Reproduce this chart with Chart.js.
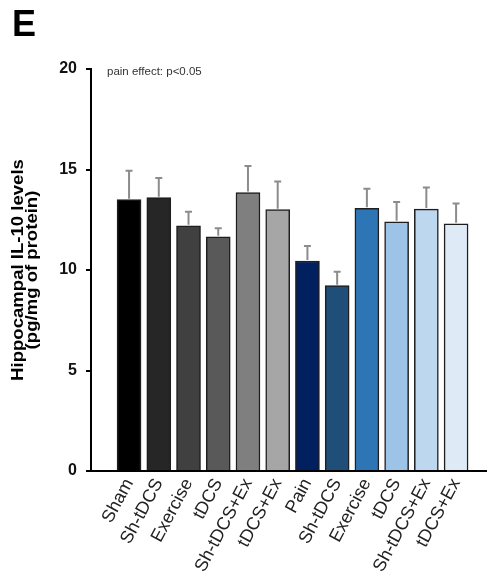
<!DOCTYPE html>
<html>
<head>
<meta charset="utf-8">
<script src="https://cdn.jsdelivr.net/npm/chart.js@4.4.1/dist/chart.umd.min.js"></script>
<style>
  html, body { margin: 0; padding: 0; background: #fff; }
  #wrap { width: 487px; height: 576px; position: relative; }
</style>
</head>
<body>
<div id="wrap"><canvas id="c" width="487" height="576"></canvas></div>
<script>
// Groups: control (grey) then pain (blue)
const categories = ['Sham', 'Sh-tDCS', 'Exercise', 'tDCS', 'Sh-tDCS+Ex', 'tDCS+Ex',
                    'Pain', 'Sh-tDCS', 'Exercise', 'tDCS', 'Sh-tDCS+Ex', 'tDCS+Ex'];
const meanIL10 = [13.5, 13.6, 12.2, 11.65, 13.85, 13.0, 10.45, 9.22, 13.07, 12.4, 13.03, 12.3];
const semIL10  = [1.44, 0.98, 0.7, 0.43, 1.32, 1.4, 0.75, 0.69, 0.97, 0.98, 1.08, 1.01];
const barColors = ['#000000', '#262626', '#404040', '#595959', '#7f7f7f', '#a6a6a6',
                   '#002060', '#1f4e79', '#2e75b6', '#9dc3e6', '#bdd7ee', '#deebf7'];
const yTicks = [0, 5, 10, 15, 20];

const FONT = "'Liberation Sans', Arial, Helvetica, sans-serif";

// Mean ± SEM whiskers above each bar
const errorBars = {
  id: 'errorBars',
  afterDatasetsDraw(chart) {
    const ctx = chart.ctx;
    const meta = chart.getDatasetMeta(0);
    const ys = chart.scales.y;
    ctx.save();
    ctx.strokeStyle = '#8c8c8c';
    ctx.lineWidth = 2;
    meta.data.forEach((bar, i) => {
      const yTop = ys.getPixelForValue(meanIL10[i] + semIL10[i]);
      const yBase = ys.getPixelForValue(meanIL10[i]);
      ctx.beginPath();
      ctx.moveTo(bar.x, yBase - 1);
      ctx.lineTo(bar.x, yTop);
      ctx.moveTo(bar.x - 3.5, yTop);
      ctx.lineTo(bar.x + 3.5, yTop);
      ctx.stroke();
    });
    ctx.restore();
  }
};

// Panel letter, y-axis title and statistics note
const annotations = {
  id: 'annotations',
  afterDraw(chart) {
    const ctx = chart.ctx;
    ctx.save();
    ctx.fillStyle = '#000';
    ctx.textBaseline = 'alphabetic';
    ctx.textAlign = 'left';
    ctx.font = 'bold 36px ' + FONT;
    ctx.fillText('E', 12, 36);

    ctx.fillStyle = '#333';
    ctx.font = '11.5px ' + FONT;
    ctx.fillText('pain effect: p<0.05', 107, 75);

    // two-line rotated axis title, slightly widened along its length
    ctx.translate(0, 270);
    ctx.rotate(-Math.PI / 2);
    ctx.scale(1.16, 1);
    ctx.fillStyle = '#000';
    ctx.textAlign = 'center';
    ctx.font = 'bold 16px ' + FONT;
    ctx.fillText('Hippocampal IL-10 levels', 0, 22.5);
    ctx.fillText('(pg/mg of protein)', 0, 36.5);
    ctx.restore();
  }
};

new Chart(document.getElementById('c'), {
  type: 'bar',
  data: {
    datasets: [{
      data: meanIL10.map((v, i) => ({ x: i, y: v })),
      backgroundColor: barColors,
      borderColor: '#1e1e1e',
      borderWidth: 1.5,
      barThickness: 24,
      borderSkipped: 'bottom'
    }]
  },
  plugins: [errorBars, annotations],
  options: {
    responsive: false,
    animation: false,
    devicePixelRatio: 1,
    layout: { padding: { top: 69, left: 0, right: 0, bottom: 0 } },
    plugins: { legend: { display: false }, tooltip: { enabled: false } },
    scales: {
      x: {
        type: 'linear',
        offset: false,
        min: -1.28,
        max: 12.04,
        afterBuildTicks(scale) {
          scale.ticks = categories.map((_, i) => ({ value: i }));
        },
        afterFit(scale) { scale.height = 105; },
        grid: { display: false, drawTicks: false },
        border: { display: true, color: '#000', width: 2 },
        ticks: {
          autoSkip: false,
          minRotation: 62,
          maxRotation: 62,
          padding: 4,
          color: '#222',
          font: { family: FONT, size: 18 },
          callback: (v) => categories[v]
        }
      },
      y: {
        min: 0,
        max: 20,
        afterBuildTicks(scale) {
          scale.ticks = yTicks.map(v => ({ value: v }));
        },
        afterFit(scale) { scale.width = 91; },
        grid: { drawOnChartArea: false, drawTicks: true, tickLength: 5, color: '#000', lineWidth: 2 },
        border: { display: true, color: '#000', width: 2 },
        ticks: {
          padding: 9,
          color: '#111',
          font: { family: FONT, size: 16, weight: 'bold' }
        }
      }
    }
  }
});
</script>
</body>
</html>
